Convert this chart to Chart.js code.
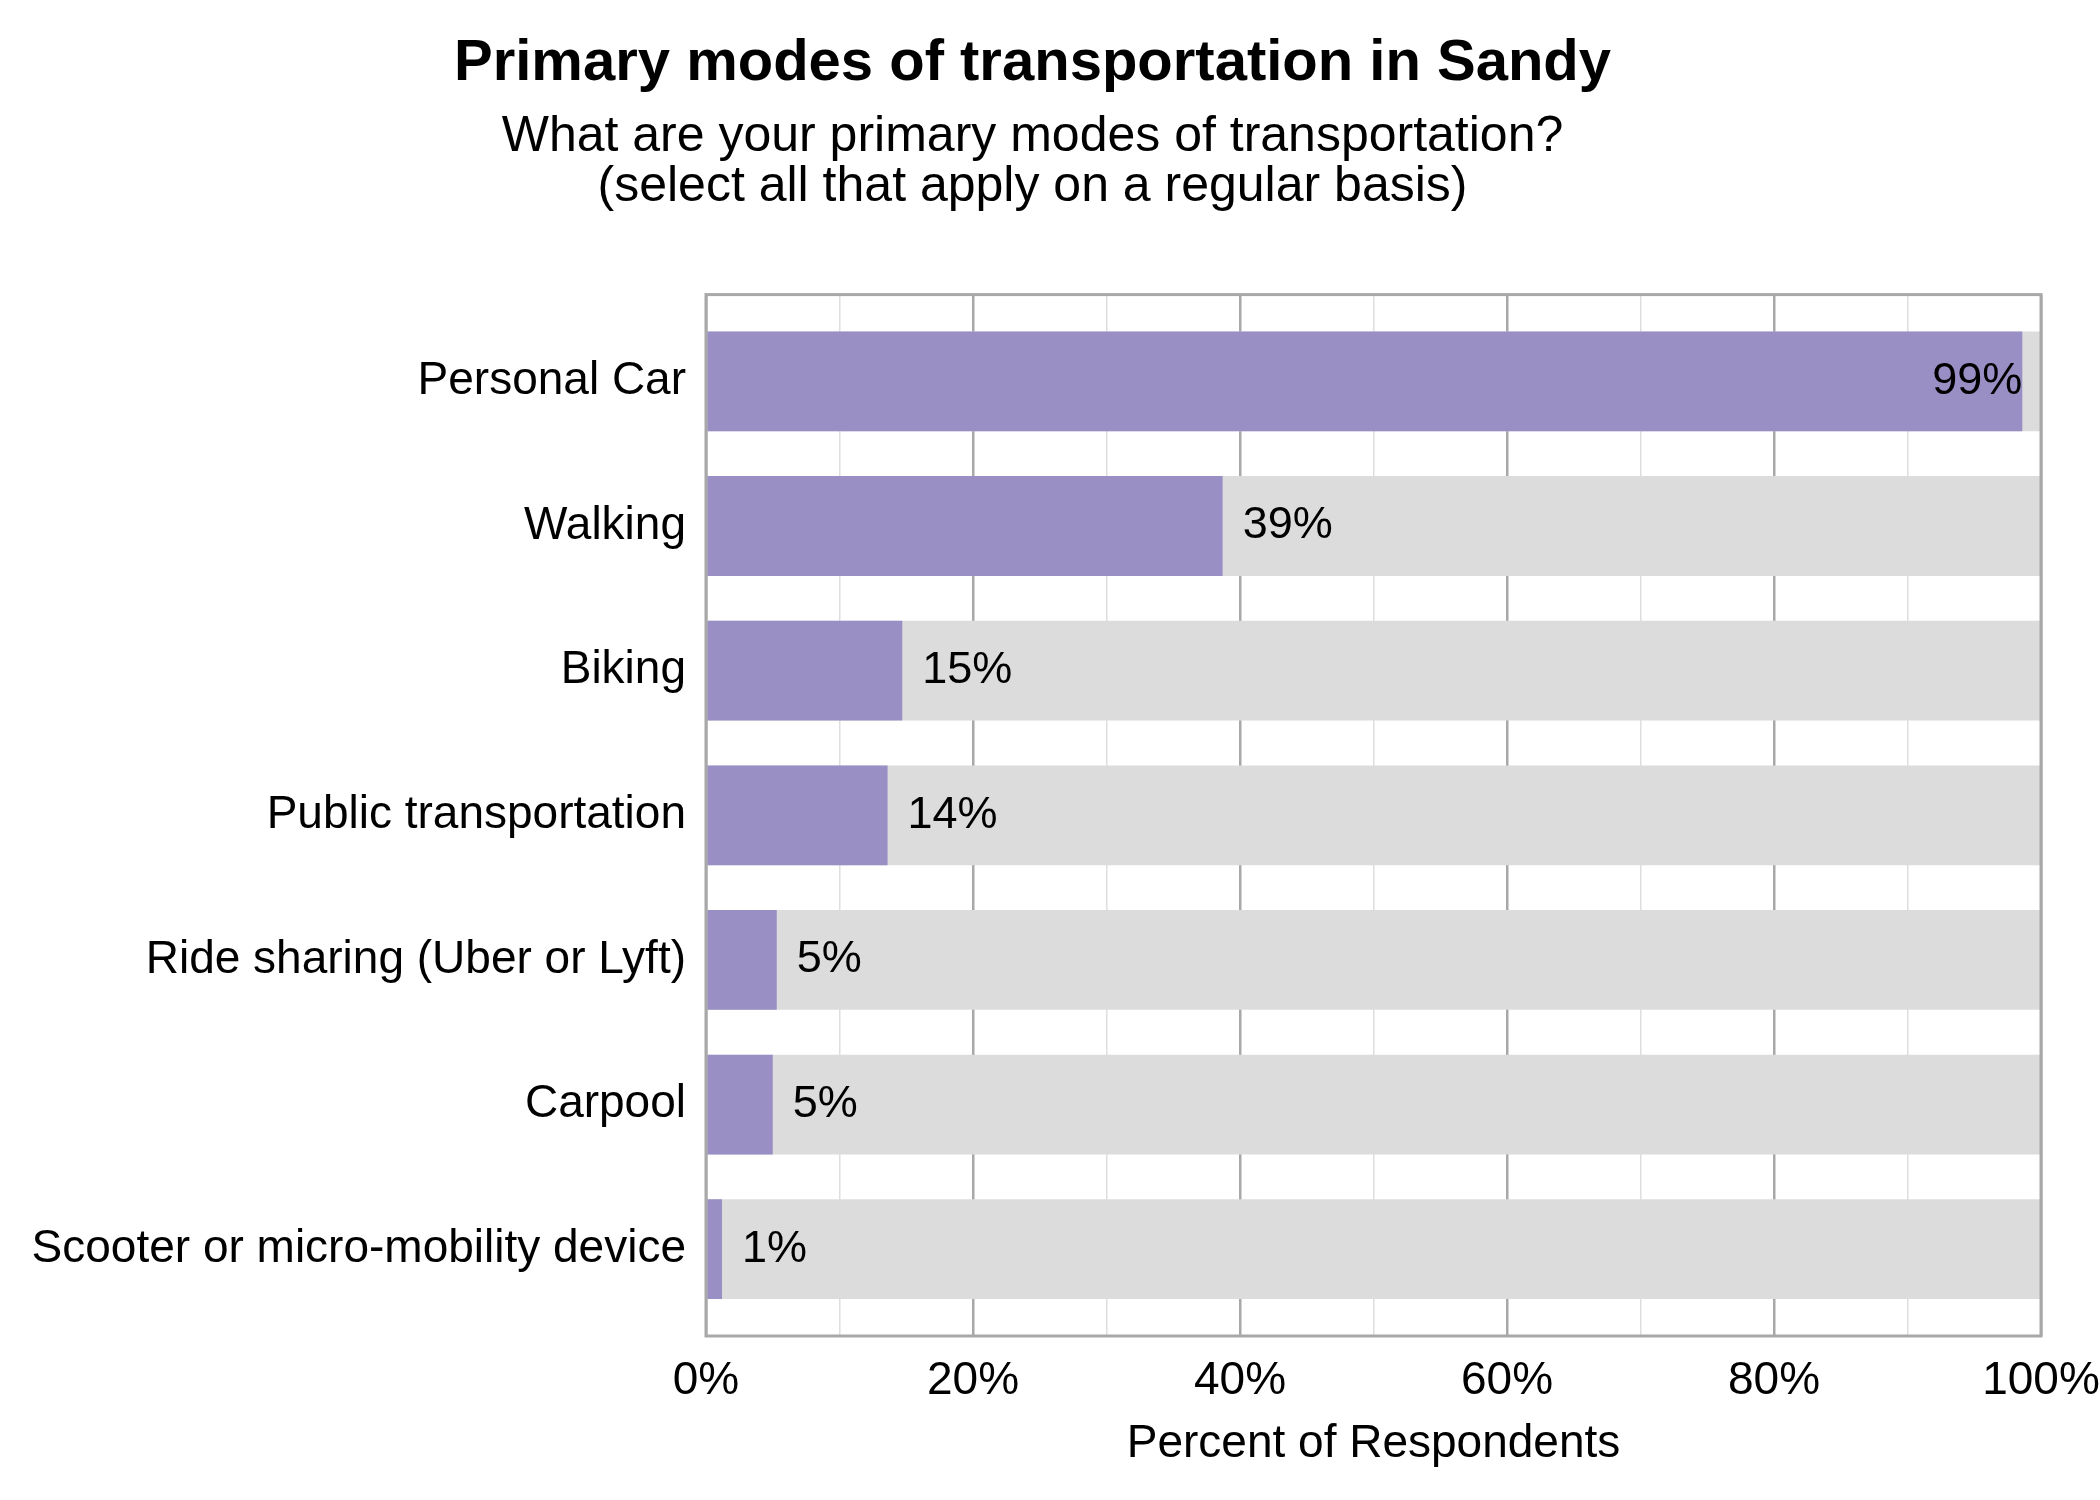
<!DOCTYPE html>
<html>
<head>
<meta charset="utf-8">
<title>Primary modes of transportation in Sandy</title>
<script src="https://cdn.jsdelivr.net/npm/chart.js@4.4.1/dist/chart.umd.min.js"></script>
<style>
  body { margin: 0; background: #fff; }
  canvas { display: block; }
</style>
</head>
<body>
<canvas id="myChart" width="2100" height="1500"></canvas>
<script>
// chart data
const modes = ['Personal Car', 'Walking', 'Biking', 'Public transportation',
  'Ride sharing (Uber or Lyft)', 'Carpool', 'Scooter or micro-mobility device'];
const percents = [98.6, 38.7, 14.7, 13.6, 5.3, 5.0, 1.2];
const fullScale = [100, 100, 100, 100, 100, 100, 100];
const xTicks = [0, 20, 40, 60, 80, 100];

const fontName = '"Liberation Sans", Arial, Helvetica, sans-serif';
const purple = '#998fc4';
const greyBar = '#dcdcdc';
const frameColor = '#a8a8a8';

// frame round the plot + value labels
const extras = {
  id: 'extras',
  afterDatasetsDraw(chart) {
    const ctx = chart.ctx;
    const a = chart.chartArea;
    ctx.save();
    ctx.strokeStyle = frameColor;
    ctx.lineWidth = 3;
    ctx.strokeRect(a.left, a.top, a.right - a.left, a.bottom - a.top);

    const meta = chart.getDatasetMeta(1);
    ctx.font = '45px ' + fontName;
    ctx.fillStyle = '#000';
    ctx.textBaseline = 'middle';
    meta.data.forEach((bar, i) => {
      const txt = Math.round(percents[i]) + '%';
      if (percents[i] > 90) {
        ctx.textAlign = 'right';
        ctx.fillText(txt, bar.x, bar.y);
      } else {
        ctx.textAlign = 'left';
        ctx.fillText(txt, bar.x + 20, bar.y);
      }
    });
    ctx.restore();
  }
};

const ctx = document.getElementById('myChart').getContext('2d');
const chart = new Chart(ctx, {
  type: 'bar',
  data: {
    datasets: [{
      label: 'background',
      data: fullScale.map((v, i) => ({ x: v, y: i })),
      backgroundColor: greyBar,
      grouped: false,
      order: 2,
      categoryPercentage: 1,
      barPercentage: 0.69
    }, {
      label: 'Percent of Respondents',
      data: percents.map((v, i) => ({ x: v, y: i })),
      backgroundColor: purple,
      grouped: false,
      order: 1,
      categoryPercentage: 1,
      barPercentage: 0.69
    }]
  },
  options: {
    indexAxis: 'y',
    responsive: false,
    devicePixelRatio: 1,
    animation: false,
    layout: { padding: { left: 0, right: 35, top: 0, bottom: 0 } },
    plugins: {
      legend: { display: false },
      tooltip: { enabled: false },
      title: {
        display: true,
        text: 'Primary modes of transportation in Sandy',
        color: '#000',
        font: { family: fontName, size: 58, weight: 'bold', lineHeight: 1.2 },
        padding: { top: 29, bottom: 14 }
      },
      subtitle: {
        display: true,
        text: ['What are your primary modes of transportation?', '(select all that apply on a regular basis)'],
        color: '#000',
        font: { family: fontName, size: 50, lineHeight: 1.0 },
        padding: { top: 0, bottom: 82 }
      }
    },
    scales: {
      x: {
        type: 'linear',
        min: 0,
        max: 100,
        afterFit: s => {
          s.height = 164;
          s.paddingLeft = 0;
          s.paddingRight = 59;
        },
        afterBuildTicks: s => {
          const t = [];
          for (let v = 0; v <= 100; v += 10) t.push({ value: v });
          s.ticks = t;
        },
        ticks: {
          autoSkip: false,
          maxRotation: 0,
          padding: 18,
          color: '#000',
          font: { family: fontName, size: 46 },
          callback: v => xTicks.includes(v) ? v + '%' : ''
        },
        grid: {
          drawTicks: false,
          color: c => (c.tick && c.tick.value % 20 === 0) ? '#a8a8a8' : '#dedede',
          lineWidth: c => (c.tick && c.tick.value % 20 === 0) ? 2.5 : 1.5
        },
        border: { display: false },
        title: {
          display: true,
          text: 'Percent of Respondents',
          color: '#000',
          font: { family: fontName, size: 46, lineHeight: 1.2 },
          padding: { top: 0, bottom: 28 }
        }
      },
      y: {
        type: 'linear',
        reverse: true,
        offset: false,
        min: -0.6,
        max: 6.6,
        afterFit: s => { s.width = 706; },
        afterBuildTicks: s => { s.ticks = modes.map((m, i) => ({ value: i })); },
        ticks: {
          padding: 20,
          color: '#000',
          font: { family: fontName, size: 46 },
          callback: v => modes[v]
        },
        grid: { display: false, drawTicks: false },
        border: { display: false }
      }
    }
  },
  plugins: [extras]
});
</script>
</body>
</html>
